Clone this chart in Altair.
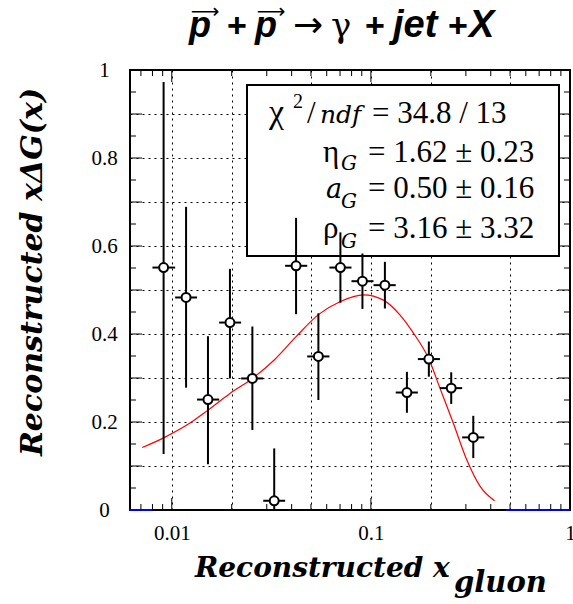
import altair as alt
import pandas as pd

# ---- data ----
x_vals = [0.0091, 0.0118, 0.0152, 0.0196, 0.0254, 0.0327, 0.0421, 0.0545, 0.0703, 0.0907, 0.1176, 0.1517, 0.1955, 0.2532, 0.3268]
x_lo = [0.0080, 0.0104, 0.0134, 0.0173, 0.0223, 0.0288, 0.0371, 0.0479, 0.0619, 0.0799, 0.1031, 0.1333, 0.1722, 0.2222, 0.2873]
x_hi = [0.0104, 0.0134, 0.0173, 0.0223, 0.0288, 0.0371, 0.0479, 0.0619, 0.0799, 0.1031, 0.1333, 0.1722, 0.2222, 0.2873, 0.3711]
y_vals = [0.551, 0.483, 0.251, 0.426, 0.299, 0.021, 0.555, 0.349, 0.551, 0.520, 0.511, 0.267, 0.343, 0.277, 0.165]
y_hi = [0.973, 0.689, 0.395, 0.548, 0.417, 0.140, 0.664, 0.447, 0.631, 0.583, 0.564, 0.314, 0.383, 0.313, 0.214]
y_lo = [0.127, 0.278, 0.104, 0.299, 0.182, -0.098, 0.445, 0.250, 0.471, 0.457, 0.458, 0.221, 0.303, 0.241, 0.118]

fit_x = [0.00711, 0.0091, 0.0119, 0.0152, 0.0196, 0.0254, 0.0327, 0.0421, 0.0545, 0.0703, 0.0918, 0.1156, 0.1402, 0.1636, 0.1955, 0.2222, 0.2595, 0.3030, 0.3544, 0.418]
fit_y = [0.142, 0.164, 0.193, 0.227, 0.265, 0.299, 0.341, 0.394, 0.444, 0.474, 0.489, 0.477, 0.443, 0.402, 0.343, 0.277, 0.197, 0.114, 0.053, 0.021]

empty_lo = [0.00617, 0.479]
empty_hi = [0.0080, 1.0]

x_grid = [0.01, 0.02, 0.05, 0.1, 0.2, 0.5, 1]
x_major_ticks = [0.01, 0.1]
x_minor_ticks = [0.007, 0.008, 0.009, 0.02, 0.03, 0.04, 0.05, 0.06, 0.07, 0.08, 0.09,
                 0.2, 0.3, 0.4, 0.5, 0.6, 0.7, 0.8, 0.9]
y_grid = [0, 0.1, 0.2, 0.3, 0.4, 0.5, 0.6, 0.7, 0.8, 0.9, 1]
y_major_ticks = [0.1, 0.2, 0.3, 0.4, 0.5, 0.6, 0.7, 0.8, 0.9]
y_minor_ticks = [0.05, 0.15, 0.25, 0.35, 0.45, 0.55, 0.65, 0.75, 0.85, 0.95]

W, H = 440, 440
SERIF = "Times New Roman"
ISERIF = "DejaVu Serif"
SANS = "Arial"

xs = alt.Scale(type="log", domain=[0.00617, 1], nice=False)
ys = alt.Scale(domain=[0, 1], nice=False)

pts = pd.DataFrame({"x": x_vals, "xlo": x_lo, "xhi": x_hi, "y": y_vals, "ylo": y_lo, "yhi": y_hi})
fit = pd.DataFrame({"x": fit_x, "y": fit_y})
empty = pd.DataFrame({"xlo": empty_lo, "xhi": empty_hi, "y": [0, 0]})
one = pd.DataFrame({"a": [0]})

xaxis = alt.Axis(values=x_grid, grid=True, gridDash=[2, 4], gridColor="black", gridWidth=1,
                 gridOpacity=1, ticks=False, domain=False,
                 labelExpr="datum.value == 0.01 ? '0.01' : datum.value == 0.1 ? '0.1' : datum.value == 1 ? '1' : ''",
                 labelFont=SERIF, labelFontSize=21, labelColor="black", labelPadding=12,
                 labelFlush=False, labelOverlap=False, title=None)
yaxis = alt.Axis(values=y_grid, grid=True, gridDash=[2, 4], gridColor="black", gridWidth=1,
                 gridOpacity=1, ticks=False, domain=False,
                 labelExpr="round(datum.value*10) % 2 == 0 ? format(datum.value, '~g') : ''",
                 labelFont=SERIF, labelFontSize=21, labelColor="black", labelPadding=26,
                 labelAlign="center", labelBaseline="middle", labelFlush=False,
                 labelOverlap=False, title=None)

base = alt.Chart(fit).mark_line(color="#ff0000", strokeWidth=1.2, interpolate="monotone", clip=True).encode(
    x=alt.X("x:Q", scale=xs, axis=xaxis),
    y=alt.Y("y:Q", scale=ys, axis=yaxis),
)

blue = alt.Chart(empty).mark_rule(color="#0000ff", strokeWidth=2).encode(
    x=alt.X("xlo:Q", scale=xs), x2="xhi:Q", y=alt.Y("y:Q", scale=ys))

def ticks(vals, length, orient):
    d = pd.DataFrame({"v": vals})
    c = alt.Chart(d).mark_rule(color="black", strokeWidth=1)
    if orient == "bottom":
        return c.encode(x=alt.X("v:Q", scale=xs), y=alt.value(H), y2=alt.value(H - length))
    if orient == "top":
        return c.encode(x=alt.X("v:Q", scale=xs), y=alt.value(0), y2=alt.value(length))
    if orient == "left":
        return c.encode(y=alt.Y("v:Q", scale=ys), x=alt.value(0), x2=alt.value(length))
    return c.encode(y=alt.Y("v:Q", scale=ys), x=alt.value(W), x2=alt.value(W - length))

tick_layers = []
for o in ["bottom", "top"]:
    tick_layers.append(ticks(x_minor_ticks, 6, o))
    tick_layers.append(ticks(x_major_ticks, 12, o))
for o in ["left", "right"]:
    tick_layers.append(ticks(y_minor_ticks, 6, o))
    tick_layers.append(ticks(y_major_ticks, 12, o))

box = alt.Chart(one).mark_rect(fill="white", stroke="black", strokeWidth=2).encode(
    x=alt.value(117), x2=alt.value(429), y=alt.value(15), y2=alt.value(186))

vbar = alt.Chart(pts).mark_rule(color="black", strokeWidth=2, clip=True).encode(
    x=alt.X("x:Q", scale=xs), y=alt.Y("ylo:Q", scale=ys), y2="yhi:Q")
hbar = alt.Chart(pts).mark_rule(color="black", strokeWidth=2).encode(
    x=alt.X("xlo:Q", scale=xs), x2="xhi:Q", y=alt.Y("y:Q", scale=ys))
dots = alt.Chart(pts).mark_point(shape="circle", filled=True, fill="white", fillOpacity=1,
                                 stroke="black", strokeWidth=2, size=80, opacity=1).encode(
    x=alt.X("x:Q", scale=xs), y=alt.Y("y:Q", scale=ys))


def txt(s, x, y, size, font=SERIF, style="normal", weight="normal", align="left",
        baseline="alphabetic", angle=0):
    return alt.Chart(one).mark_text(text=s, fontSize=size, font=font, fontStyle=style,
                                    fontWeight=weight, align=align, baseline=baseline,
                                    angle=angle, color="black").encode(
        x=alt.value(x), y=alt.value(y))

texts = [
    # title
    txt("p", 59, -33, 36, SANS, "italic", "bold"),
    txt("⟶", 75, -58, 20, "DejaVu Sans", baseline="middle", align="center"),
    txt("+", 97, -33, 34, SANS, "normal", "bold"),
    txt("p", 125, -33, 36, SANS, "italic", "bold"),
    txt("⟶", 141, -58, 20, "DejaVu Sans", baseline="middle", align="center"),
    txt("→", 163, -33, 36, "DejaVu Sans"),
    txt("γ", 201, -33, 34, "DejaVu Serif"),
    txt("+", 235, -33, 34, SANS, "normal", "bold"),
    txt("jet", 263, -33, 38, SANS, "italic", "bold"),
    txt("+", 318, -33, 34, SANS, "normal", "bold"),
    txt("X", 339, -33, 38, SANS, "italic", "bold"),
    # stats box
    txt("χ", 139, 53, 34),
    txt("2", 163, 38, 20),
    txt("/", 177, 53, 31),
    txt("ndf", 190, 53, 25, ISERIF, "italic"),
    txt("= 34.8 / 13", 242, 53, 31),
    txt("η", 193, 92, 31),
    txt("G", 211, 100, 20, ISERIF, "italic"),
    txt("= 1.62 ± 0.23", 238, 92, 31),
    txt("a", 196, 128, 27, ISERIF, "italic"),
    txt("G", 211, 138, 20, ISERIF, "italic"),
    txt("= 0.50 ± 0.16", 238, 128, 31),
    txt("ρ", 193, 168, 31),
    txt("G", 211, 178, 20, ISERIF, "italic"),
    txt("= 3.16 ± 3.32", 238, 168, 31),
    # axis titles
    txt("Reconstructed x", 65, 507, 28, ISERIF, "italic", "bold"),
    txt("gluon", 324, 522, 29, ISERIF, "italic", "bold"),
    txt("Reconstructed xΔG(x)", -88, 202, 30, ISERIF, "italic", "bold", align="center", angle=270),
]

chart = alt.layer(base, blue, *tick_layers, box, vbar, hbar, dots, *texts).properties(
    width=W, height=H,
    padding={"left": 130, "top": 70, "right": 3, "bottom": 94},
    autosize=alt.AutoSizeParams(type="none"),
    background="white",
).configure_view(stroke="black", strokeWidth=2)

chart.save("out.html", embed_options={"renderer": "svg", "actions": False})
